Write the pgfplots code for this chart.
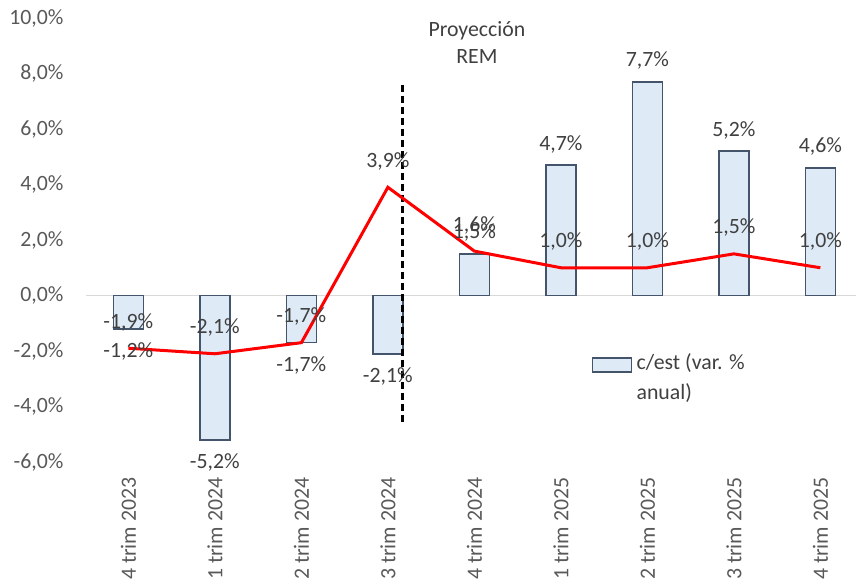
\documentclass[border=0pt]{standalone}
\usepackage{pgfplots}
\pgfplotsset{compat=1.18}
\usepackage{pgfplotstable}
\usepackage{fontspec}
\setmainfont{Carlito}
\usetikzlibrary{calc}

\definecolor{barfill}{HTML}{DEEBF7}
\definecolor{baredge}{HTML}{44546A}
\definecolor{ticktext}{HTML}{595959}
\definecolor{labeltext}{HTML}{404040}
\definecolor{zeroline}{HTML}{D9D9D9}

% quarterly series: bars (c/est, var. % anual) and red line
\pgfplotstableread{
x  bar   line
0  -1.2  -1.9
1  -5.2  -2.1
2  -1.7  -1.7
3  -2.1   3.9
4   1.5   1.6
5   4.7   1.0
6   7.7   1.0
7   5.2   1.5
8   4.6   1.0
}\datatable

\newcommand{\pct}[1]{\pgfmathprintnumber[fixed,fixed zerofill,precision=1,use comma,assume math mode=true]{#1}\%}

\begin{document}
\fontsize{21.8}{26}\selectfont
\begin{tikzpicture}
\begin{axis}[
  scale only axis,
  width=770pt, height=444pt,
  xmin=-0.49, xmax=8.412,
  ymin=-6, ymax=10,
  clip=false,
  axis line style={draw=none},
  tick style={draw=none},
  major tick length=0pt,
  ytick={-6,-4,...,10},
  yticklabel={\pct{\tick}},
  xtick={0,...,8},
  xticklabels={4 trim 2023,1 trim 2024,2 trim 2024,3 trim 2024,4 trim 2024,1 trim 2025,2 trim 2025,3 trim 2025,4 trim 2025},
  x tick label style={rotate=90, anchor=east, color=ticktext},
  y tick label style={color=ticktext},
  xticklabel shift=8pt,
  yticklabel shift=15pt,
  extra y ticks={0},
  extra y tick labels={},
  extra y tick style={grid=major, major grid style={draw=zeroline, line width=1.5pt}},
]
\coordinate (O) at (rel axis cs:0,0);

% bars
\addplot[ybar, bar width=30pt, bar shift=0pt,
  fill=barfill, draw=baredge, line width=1.5pt,
  point meta=y,
  nodes near coords={\pct{\pgfplotspointmeta}},
  visualization depends on={rawy \as \rawyval},
  every node near coord/.append style={anchor=center, color=labeltext,
    yshift={ifthenelse(\rawyval>0,21pt,-23pt)}},
] table[x=x, y=bar] {\datatable};

% projection divider
\addplot[black, line width=2.75pt, dash pattern=on 7pt off 4pt]
  coordinates {(3.171,7.59) (3.171,-4.67)};

% red line
\addplot[color=red, line width=3pt, no markers, sharp plot,
  point meta=y,
  nodes near coords={\pct{\pgfplotspointmeta}},
  every node near coord/.append style={anchor=center, color=labeltext, yshift=26pt},
] table[x=x, y=line] {\datatable};

\node[anchor=base, inner sep=0pt, labeltext] at (axis cs:4.029,9.35)
  {\begin{tabular}[t]{@{}c@{}}Proyección\\[1pt]REM\end{tabular}};

% legend
\draw[fill=barfill, draw=baredge, line width=1.5pt]
  (axis cs:5.364,-2.25) rectangle (axis cs:5.815,-2.76);
\node[anchor=base west, inner sep=0pt, labeltext] at (axis cs:5.873,-2.68)
  {\begin{tabular}[t]{@{}l@{}}c/est (var. \%\\[4pt]anual)\end{tabular}};
\end{axis}
\pgfresetboundingbox
\path[use as bounding box] ($(O)+(-86pt,-122pt)$) rectangle ($(O)+(770pt,462pt)$);
\end{tikzpicture}
\end{document}
